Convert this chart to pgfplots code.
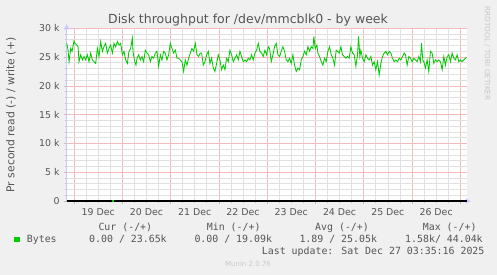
\documentclass[border=0pt]{standalone}
\usepackage{pgfplots}
\pgfplotsset{compat=1.18}
\usepackage{pgfplotstable}
\usepackage{fontspec}
\setmainfont{DejaVu Sans}
\newfontfamily\mono{DejaVu Sans Mono}
\usetikzlibrary{arrows.meta}
\definecolor{bg}{RGB}{240,240,240}
\definecolor{majgrid}{RGB}{240,188,188}
\definecolor{mingrid}{RGB}{224,224,224}
\definecolor{tickc}{RGB}{190,190,190}
\definecolor{axisblue}{RGB}{200,200,255}
\definecolor{lgreen}{RGB}{0,204,0}
\definecolor{txt}{RGB}{85,85,85}
\definecolor{wm}{RGB}{200,200,200}

\pgfplotstableread{
x y
-3.6 27400
-2.98 26200
-2.48 24200
-1.66 26500
-0.99 26000
0 27800
0.5 27400
1.32 27100
1.99 26800
2.48 24200
3.31 25400
4.14 24500
4.97 25100
5.80 24500
6.62 25400
7.45 24200
8.28 25700
9.11 24500
9.94 24200
10.76 23900
11.59 26500
12.42 25100
13.25 27700
14.08 26000
14.90 26800
15.73 27400
16.56 25700
17.39 26500
18.22 27100
19.04 25700
19.87 27400
20.70 26800
21.53 27700
22.36 27100
23.18 27400
24.01 25400
24.84 26000
25.67 24500
26.50 23900
27.32 26000
28.15 26500
28.98 28300
29.31 26000
30.14 24200
30.80 23600
31.30 24800
32.13 25400
32.95 24500
33.78 25100
34.61 24200
35.44 26200
36.27 25700
37.09 25400
37.92 24200
38.75 25100
39.58 24800
40.41 25700
41.23 26000
42.06 23400
42.89 25400
43.72 24500
44.55 26000
45.37 25700
46.20 24500
47.03 25400
47.86 27400
48.69 26500
49.51 25700
50.34 26200
51.17 24800
52.00 24800
52.83 24500
53.65 24200
54.48 22500
55.31 24500
56.14 23600
56.97 24800
57.79 25700
58.62 26500
59.45 26000
60.28 27400
61.11 25400
61.93 25100
62.76 25700
63.42 25700
64.25 23600
65.08 24200
65.91 25400
66.73 26000
67.56 23900
68.39 24800
69.22 23100
70.05 22500
70.88 23900
71.70 25400
72.53 24500
73.36 22800
74.19 23600
75.02 22800
75.84 24800
76.67 24200
77.50 26200
78.33 25400
79.16 24200
79.98 24800
80.81 25400
81.64 24500
82.47 26000
83.30 25100
84.12 24200
84.95 24500
85.78 24200
86.61 24800
87.44 24500
88.26 25400
89.09 24500
89.92 25700
90.75 26200
91.58 27400
92.40 26000
93.23 25700
94.06 25100
94.89 26200
95.72 25400
96.54 26800
97.21 26500
98.03 24200
98.86 25400
99.69 26800
100.52 27400
101.35 25400
102.18 25100
103.00 26000
103.83 26800
104.66 26000
105.49 24500
106.32 24200
107.14 24800
107.97 23900
108.80 25400
109.63 23600
110.45 22500
111.28 23100
112.11 22800
112.94 24500
113.77 25100
114.60 26000
115.42 25400
116.25 26800
117.08 26000
117.91 26800
118.74 26500
119.23 28600
119.89 26500
120.72 27100
121.22 25700
122.05 25100
122.87 24200
123.70 23600
124.53 24800
125.36 24200
126.19 26000
127.01 26800
127.84 25400
128.67 24800
129.50 23600
130.33 26200
130.99 26000
131.82 25700
132.65 26800
133.47 25400
134.30 25100
135.13 24800
135.96 25100
136.79 24800
137.61 26800
138.44 25700
139.27 25400
140.10 23400
140.93 25400
141.42 28600
142.08 25100
142.58 26200
143.41 24800
144.24 24200
145.07 25400
145.89 24800
146.72 24500
147.55 25100
148.38 23600
149.21 24200
150.03 22800
150.86 24200
151.69 21900
152.52 23900
153.35 25100
154.17 25700
155.00 26000
155.83 25400
156.66 26000
157.49 25700
158.31 24800
159.14 24200
159.97 24500
160.80 24200
161.63 24800
162.45 24500
163.28 25100
164.11 25700
164.77 25400
165.60 23600
166.43 25100
167.26 24800
168.08 24200
168.91 24800
169.74 24500
170.57 24200
171.40 25100
172.22 24200
172.72 27400
173.38 24500
173.88 24200
174.71 23100
175.53 24500
176.36 22500
177.19 26000
178.02 25700
178.85 23900
179.67 24500
180.50 24200
181.33 24500
182.16 24200
182.99 22800
183.82 25100
184.64 23600
185.47 25100
186.30 25400
187.13 24200
187.96 25700
188.78 24800
189.61 24500
190.44 25400
191.27 24200
192.09 24500
192.92 24200
193.75 24500
194.58 24800
195.08 25000
}\writes

\begin{document}
\begin{tikzpicture}[x=1pt,y=1pt]
\fill[bg] (0,0) rectangle (497,275);
\useasboundingbox (0,0) rectangle (497,275);
\begin{axis}[
  at={(66.7pt,74pt)}, anchor=south west,
  scale only axis, width=400pt, height=172.7pt,
  xmin=-3.65, xmax=195.2, ymin=0, ymax=30000,
  axis lines=left,
  axis line style={draw=axisblue, line width=0.8pt, shorten >=-4pt, -{Triangle[length=5pt,width=5pt]}},
  axis background/.style={fill=white},
  clip=false,
  scaled y ticks=false,
  xtick={0,24,...,192},
  xticklabels={},
  minor xtick={-18,-12,-6,6,12,18,30,36,42,54,60,66,78,84,90,102,108,114,126,132,138,150,156,162,174,180,186},
  extra x ticks={12,36,...,180},
  extra x tick labels={19 Dec,20 Dec,21 Dec,22 Dec,23 Dec,24 Dec,25 Dec,26 Dec},
  extra x tick style={xmajorgrids=false, major tick length=0pt,
    xticklabel style={anchor=north, inner sep=0pt, yshift=-7pt}},
  ytick={0,5000,...,30000},
  yticklabels={0,5 k,10 k,15 k,20 k,25 k,30 k},
  minor ytick={1000,2000,3000,4000,6000,7000,8000,9000,11000,12000,13000,14000,16000,17000,18000,19000,21000,22000,23000,24000,26000,27000,28000,29000},
  yticklabel style={anchor=east, inner sep=0pt, xshift=-4pt},
  tick label style={font=\fontsize{9.4}{11}\selectfont, text=txt},
  tick align=outside,
  major tick length=3pt, minor tick length=2pt,
  tick style={draw=tickc, line width=0.7pt},
  xmajorgrids=true, ymajorgrids=true, xminorgrids=true, yminorgrids=true,
  major grid style={draw=majgrid, line width=0.7pt},
  minor grid style={draw=mingrid, line width=0.7pt},
]
\addplot[lgreen, line width=0.85pt] table[x=x,y=y] {\writes};
\addplot[black, line width=1.4pt] coordinates {(-3.65,0) (195.2,0)};
\addplot[lgreen, line width=1.6pt] coordinates {(19.0,0) (19.8,0)};
\end{axis}
% title
\node[anchor=base, inner sep=0pt, text=txt, font=\fontsize{12.5}{14}\selectfont] at (248,251) {Disk throughput for /dev/mmcblk0 - by week};
% y label
\node[rotate=90, inner sep=0pt, text=txt, font=\fontsize{10.8}{12}\selectfont] at (11,160) {Pr second read (-) / write (+)};
% watermark right
\node[rotate=-90, inner sep=0pt, text=wm, font=\fontsize{7.3}{8}\selectfont] at (487.3,221.5) {RRDTOOL / TOBI OETIKER};
% legend
\begin{scope}[every node/.style={anchor=base west, inner sep=0pt, text=txt, font=\mono\fontsize{9.9}{11}\selectfont}]
\node at (98.3,44) {Cur (-/+)};
\node at (206.7,44) {Min (-/+)};
\node at (315,44) {Avg (-/+)};
\node at (422.7,44) {Max (-/+)};
\node at (26.7,32.7) {Bytes};
\node at (89,32.7) {0.00 / 23.65k};
\node at (194.3,32.7) {0.00 / 19.09k};
\node at (299.3,32.7) {1.89 / 25.05k};
\node at (405,32.7) {1.58k/ 44.04k};
\node at (261.7,20.7) {Last update: Sat Dec 27 03:35:16 2025};
\end{scope}
\fill[lgreen] (14,32.7) rectangle (20,38.3);
\node[anchor=base, inner sep=0pt, text=wm, font=\fontsize{7}{8}\selectfont] at (248,8.3) {Munin 2.0.76};
\end{tikzpicture}
\end{document}
